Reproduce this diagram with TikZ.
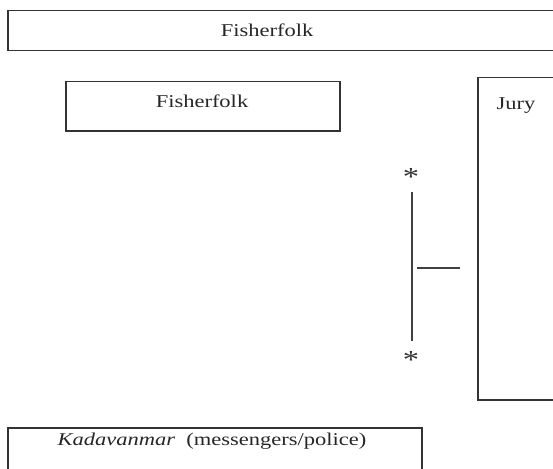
\documentclass[tikz,border=0pt]{standalone}
\usepackage{fontspec}
\setmainfont{Liberation Serif}[FakeStretch=1.25]
\begin{document}
\begin{tikzpicture}[x=1pt,y=-1pt,
  box/.style={draw=black!80, line width=1.5pt, rectangle, inner sep=0pt},
  lbl/.style={font=\fontsize{18}{21}\selectfont, text=black!85, inner sep=0pt},
  star/.style={font=\fontsize{26}{26}\selectfont, text=black!80, inner sep=0pt},
  bar/.style={draw=black!75, line width=1.5pt}]
\useasboundingbox (0,0) rectangle (553,468);
% top box (runs past the right edge)
\node[box, minimum width=553pt, minimum height=40pt, anchor=north west] (top) at (7,10) {};
\node[lbl] (toplbl) at (267,30) {Fisherfolk};
% second box
\node[box, minimum width=274pt, minimum height=49pt, anchor=north west] (fish) at (65,81) {};
\node[lbl] (fishlbl) at (202,101) {Fisherfolk};
% jury box (runs past the right edge)
\node[box, minimum width=90pt, minimum height=322pt, anchor=north west] (jury) at (477,77) {};
\node[lbl] (jurylbl) at (516,106) {Jury};
% stars and bar
\node[star] (s1) at (411,177) {*};
\node[star] (s2) at (411,360) {*};
\coordinate (b1) at (412,192);
\coordinate (b2) at (412,341);
\coordinate (h1) at (417,268);
\coordinate (h2) at (460,268);
\draw[bar] (b1) -- (b2);
\draw[bar] (h1) -- (h2);
% bottom box (runs past the bottom edge)
\node[box, minimum width=414pt, minimum height=60pt, anchor=north west] (kad) at (7,427) {};
\node[lbl] (kadlbl) at (212,441) {\textit{Kadavanmar}\ \ (messengers/police)};
\end{tikzpicture}
\end{document}
